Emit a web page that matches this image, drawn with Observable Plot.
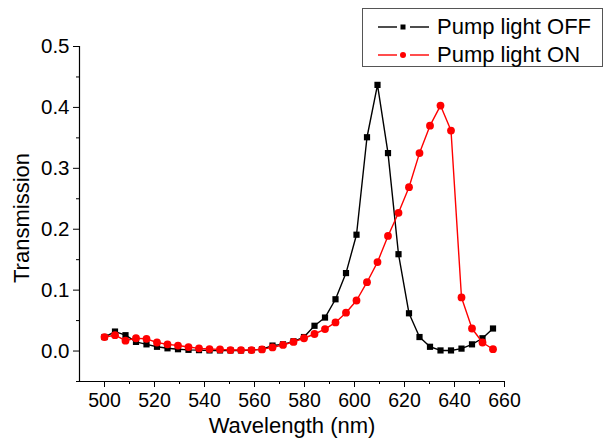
<!DOCTYPE html>
<html>
<head>
<meta charset="utf-8">
<script src="https://cdn.jsdelivr.net/npm/d3@7"></script>
<script src="https://cdn.jsdelivr.net/npm/@observablehq/plot@0.6"></script>
<style>
  body { margin: 0; background: #fff; }
  #wrap { position: relative; width: 606px; height: 448px; font-family: "Liberation Sans", Arial, sans-serif; }
  #legend { position: absolute; left: 362px; top: 8px; width: 241px; height: 59px; border: 1px solid #555; background: #fff; box-sizing: border-box; }
  .row { position: absolute; left: 0; height: 28px; display: flex; align-items: center; font-size: 22px; color: #000; white-space: nowrap; }
  .row svg { margin-left: 15px; margin-right: 8px; }
</style>
</head>
<body>
<div id="wrap"></div>
<script>
// Wavelength (nm) of each measured point
const wavelength = [500, 504.2, 508.4, 512.6, 516.8, 521, 525.2, 529.4, 533.6, 537.8,
  542, 546.2, 550.4, 554.6, 558.8, 563, 567.2, 571.4, 575.6, 579.8,
  584, 588.2, 592.4, 596.6, 600.8, 605, 609.2, 613.4, 617.6, 621.8,
  626, 630.2, 634.4, 638.6, 642.8, 647, 651.2, 655.4];
// Transmission, pump light OFF
const offValues = [0.023, 0.032, 0.026, 0.015, 0.011, 0.007, 0.0045, 0.003, 0.002, 0.0015,
  0.001, 0.001, 0.001, 0.001, 0.0015, 0.003, 0.009, 0.011, 0.016, 0.023,
  0.0415, 0.055, 0.085, 0.128, 0.191, 0.351, 0.437, 0.325, 0.159, 0.062,
  0.023, 0.007, 0.001, 0.001, 0.004, 0.011, 0.021, 0.037];
// Transmission, pump light ON
const onValues = [0.023, 0.026, 0.017, 0.021, 0.020, 0.014, 0.011, 0.009, 0.0066, 0.0044,
  0.0033, 0.0027, 0.0016, 0.0016, 0.0016, 0.0027, 0.006, 0.010, 0.015, 0.021,
  0.028, 0.036, 0.047, 0.063, 0.083, 0.113, 0.146, 0.189, 0.227, 0.269,
  0.325, 0.370, 0.403, 0.362, 0.088, 0.037, 0.014, 0.003];

const seriesNames = ["Pump light OFF", "Pump light ON"];
const seriesColors = ["#000000", "#ff0000"];
const xMajorTicks = [500, 520, 540, 560, 580, 600, 620, 640, 660];
const xMinorTicks = [510, 530, 550, 570, 590, 610, 630, 650];
const yMajorTicks = [0.0, 0.1, 0.2, 0.3, 0.4, 0.5];
const yMinorTicks = [-0.05, 0.05, 0.15, 0.25, 0.35, 0.45];
const xDomain = [490, 660];
const yDomain = [-0.05, 0.5];
const xTitle = "Wavelength (nm)";
const yTitle = "Transmission";

const offData = wavelength.map((w, i) => ({ w, t: offValues[i] }));
const onData = wavelength.map((w, i) => ({ w, t: onValues[i] }));

const font = '"Liberation Sans", Arial, sans-serif';

const chart = Plot.plot({
  width: 606,
  height: 448,
  marginLeft: 79,
  marginRight: 102,
  marginTop: 46,
  marginBottom: 67,
  style: { fontFamily: font, fontSize: "20px", color: "#000", background: "#fff", overflow: "visible" },
  x: { domain: xDomain },
  y: { domain: yDomain },
  marks: [
    Plot.axisX(xMajorTicks, { tickSize: 6, tickPadding: 6, fontSize: 19.5, label: null, tickFormat: d => String(d), stroke: "#000", strokeOpacity: 1 }),
    Plot.axisX(xMinorTicks, { tickSize: 3, label: null, tickFormat: () => "", stroke: "#000", strokeOpacity: 1 }),
    Plot.axisY(yMajorTicks, { tickSize: 6, tickPadding: 4, fontSize: 20.5, label: null, tickFormat: d => d.toFixed(1), stroke: "#000", strokeOpacity: 1 }),
    Plot.axisY(yMinorTicks, { tickSize: 3, label: null, tickFormat: () => "", stroke: "#000", strokeOpacity: 1 }),
    Plot.ruleY([yDomain[0]], { stroke: "#000", strokeWidth: 1.2, x1: xDomain[0] - 1, x2: xDomain[1] }),
    Plot.ruleX([xDomain[0]], { stroke: "#000", strokeWidth: 1.2 }),
    Plot.text([xTitle], { frameAnchor: "bottom", dy: 51, fontSize: 22, fill: "#000" }),
    Plot.text([yTitle], { frameAnchor: "left", textAnchor: "middle", rotate: -90, dx: -58, dy: 4, fontSize: 22, fill: "#000" }),
    Plot.line(offData, { x: "w", y: "t", stroke: seriesColors[0], strokeWidth: 1.4 }),
    Plot.dot(offData, { x: "w", y: "t", symbol: "square", r: 3.5, fill: seriesColors[0], stroke: "none" }),
    Plot.line(onData, { x: "w", y: "t", stroke: seriesColors[1], strokeWidth: 1.4 }),
    Plot.dot(onData, { x: "w", y: "t", symbol: "circle", r: 3.9, fill: seriesColors[1], stroke: "none" })
  ]
});

const wrap = document.getElementById("wrap");
wrap.appendChild(chart);

// Legend (HTML, overlaid at the top right)
const legend = document.createElement("div");
legend.id = "legend";
seriesNames.forEach((name, i) => {
  const row = document.createElement("div");
  row.className = "row";
  row.style.top = (i === 0 ? 4 : 32) + "px";
  const col = seriesColors[i];
  const marker = i === 0
    ? `<rect x="22.5" y="11.5" width="5" height="5" fill="${col}"/>`
    : `<circle cx="25" cy="14" r="3" fill="${col}"/>`;
  row.innerHTML = `<svg width="51" height="28" viewBox="0 0 51 28">
      <line x1="0" y1="14" x2="19" y2="14" stroke="${col}" stroke-width="1.4"/>
      <line x1="32" y1="14" x2="51" y2="14" stroke="${col}" stroke-width="1.4"/>
      ${marker}
    </svg><span>${name}</span>`;
  legend.appendChild(row);
});
wrap.appendChild(legend);
</script>
</body>
</html>
